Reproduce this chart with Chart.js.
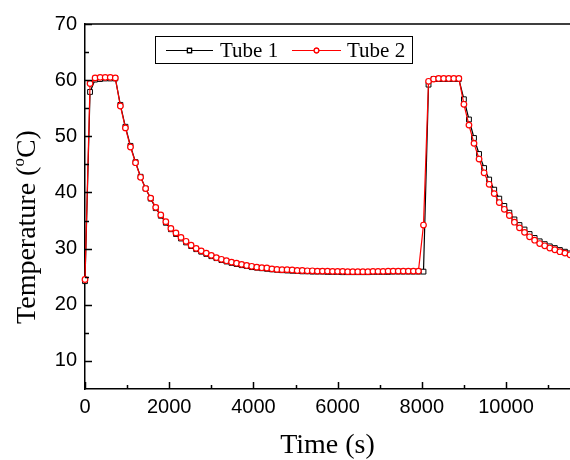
<!DOCTYPE html>
<html>
<head>
  <meta charset="utf-8">
  <title>Tube temperature</title>
  <script src="https://cdn.jsdelivr.net/npm/chart.js@4.4.0/dist/chart.umd.min.js"></script>
  <style>
    body { margin: 0; background: #ffffff; }
    #wrap { width: 570px; height: 460px; }
  </style>
</head>
<body>
<div id="wrap"><canvas id="myChart" width="570" height="460"></canvas></div>
<script>
  // time axis, seconds
  let timeSec = [
    0, 120, 240, 360, 480, 600, 720, 840, 960, 1080,
    1200, 1320, 1440, 1560, 1680, 1800, 1920, 2040, 2160, 2280,
    2400, 2520, 2640, 2760, 2880, 3000, 3120, 3240, 3360, 3480,
    3600, 3720, 3840, 3960, 4080, 4200, 4320, 4440, 4560, 4680,
    4800, 4920, 5040, 5160, 5280, 5400, 5520, 5640, 5760, 5880,
    6000, 6120, 6240, 6360, 6480, 6600, 6720, 6840, 6960, 7080,
    7200, 7320, 7440, 7560, 7680, 7800, 7920, 8040, 8160, 8280,
    8400, 8520, 8640, 8760, 8880, 9000, 9120, 9240, 9360, 9480,
    9600, 9720, 9840, 9960, 10080, 10200, 10320, 10440, 10560, 10680,
    10800, 10920, 11040, 11160, 11280, 11400, 11520
  ];

  let tube1Temp = [
    24.2, 57.9, 60.1, 60.2, 60.3, 60.3, 60.3, 55.6, 51.7, 48.3,
    45.4, 42.8, 40.7, 38.9, 37.2, 35.85, 34.6, 33.45, 32.6, 31.8,
    31.1, 30.45, 29.9, 29.45, 29.05, 28.65, 28.3, 27.95, 27.7, 27.45,
    27.25, 27.05, 26.9, 26.7, 26.6, 26.5, 26.4, 26.3, 26.2, 26.15,
    26.1, 26.05, 26.0, 25.95, 25.95, 25.9, 25.9, 25.9, 25.85, 25.85,
    25.85, 25.8, 25.8, 25.8, 25.8, 25.8, 25.8, 25.85, 25.85, 25.85,
    25.85, 25.9, 25.9, 25.9, 25.9, 25.9, 25.9, 25.9, 59.2, 60.2,
    60.2, 60.2, 60.2, 60.2, 60.2, 56.6, 53.0, 49.7, 46.85, 44.35,
    42.3, 40.5, 38.9, 37.6, 36.4, 35.2, 34.2, 33.4, 32.6, 31.9,
    31.3, 30.8, 30.4, 30.1, 29.75, 29.45, 29.15
  ];

  let tube2Temp = [
    24.5, 59.4, 60.4, 60.5, 60.5, 60.5, 60.4, 55.4, 51.5, 48.1,
    45.3, 42.7, 40.7, 39.0, 37.35, 36.0, 34.8, 33.6, 32.8, 32.0,
    31.3, 30.6, 30.05, 29.6, 29.2, 28.8, 28.4, 28.1, 27.85, 27.6,
    27.4, 27.2, 27.0, 26.85, 26.7, 26.6, 26.55, 26.4, 26.3, 26.25,
    26.25, 26.2, 26.1, 26.1, 26.05, 26.05, 26.0, 26.0, 26.0, 25.95,
    25.95, 25.95, 25.9, 25.9, 25.9, 25.9, 25.9, 25.95, 25.95, 25.95,
    26.0, 26.0, 26.0, 26.0, 26.0, 26.0, 26.0, 34.2, 59.8, 60.2,
    60.3, 60.3, 60.3, 60.3, 60.3, 55.7, 52.0, 48.75, 45.95, 43.5,
    41.45, 39.8, 38.2, 37.0, 35.9, 34.7, 33.7, 32.9, 32.1, 31.5,
    30.9, 30.5, 30.1, 29.8, 29.45, 29.2, 28.9
  ];

  let xTicks = [0, 2000, 4000, 6000, 8000, 10000];
  let xMinor = [1000, 3000, 5000, 7000, 9000, 11000];
  let yTicks = [10, 20, 30, 40, 50, 60, 70];
  let yMinor = [15, 25, 35, 45, 55, 65];

  let serif = '"Liberation Serif", "Times New Roman", serif';
  let sans = '"Liberation Sans", Arial, sans-serif';

  function toPoints(ys) {
    return timeSec.map((t, i) => ({ x: t, y: ys[i] }));
  }

  // inward tick marks, top frame line, axis titles and boxed legend
  let decor = {
    id: 'decor',
    afterDraw(chart) {
      let ctx = chart.ctx;
      let a = chart.chartArea;
      let xs = chart.scales.x, ys = chart.scales.y;
      ctx.save();
      ctx.strokeStyle = '#000';
      ctx.lineWidth = 1.5;
      ctx.beginPath();
      ctx.moveTo(a.left, a.top);
      ctx.lineTo(a.right, a.top);
      yTicks.forEach(v => { let p = Math.round(ys.getPixelForValue(v)) + 0.5; ctx.moveTo(a.left, p); ctx.lineTo(a.left + 7, p); });
      yMinor.forEach(v => { let p = Math.round(ys.getPixelForValue(v)) + 0.5; ctx.moveTo(a.left, p); ctx.lineTo(a.left + 4, p); });
      xTicks.forEach(v => { let p = Math.round(xs.getPixelForValue(v)) + 0.5; ctx.moveTo(p, a.bottom); ctx.lineTo(p, a.bottom - 7); });
      xMinor.forEach(v => { let p = Math.round(xs.getPixelForValue(v)) + 0.5; ctx.moveTo(p, a.bottom); ctx.lineTo(p, a.bottom - 4); });
      ctx.stroke();

      // x title
      ctx.fillStyle = '#000';
      ctx.font = '28px ' + serif;
      ctx.textAlign = 'center';
      ctx.textBaseline = 'alphabetic';
      ctx.fillText('Time (s)', (a.left + a.right) / 2, 453);

      // y title with superscript o
      let p1 = 'Temperature (', sup = 'o', p2 = 'C)';
      ctx.font = '28px ' + serif;
      let w1 = ctx.measureText(p1).width, w3 = ctx.measureText(p2).width;
      ctx.font = '17px ' + serif;
      let w2 = ctx.measureText(sup).width;
      let total = w1 + w2 + w3;
      ctx.translate(35, 227);
      ctx.rotate(-Math.PI / 2);
      ctx.textAlign = 'left';
      let sx = -total / 2;
      ctx.font = '28px ' + serif;
      ctx.fillText(p1, sx, 0);
      ctx.font = '17px ' + serif;
      ctx.fillText(sup, sx + w1, -11);
      ctx.font = '28px ' + serif;
      ctx.fillText(p2, sx + w1 + w2, 0);
      ctx.setTransform(1, 0, 0, 1, 0, 0);

      // legend
      ctx.lineWidth = 1;
      ctx.strokeRect(155.5, 36.5, 257, 27);
      let cy = 50.5;
      let items = [
        { ds: chart.data.datasets[0], x0: 166, x1: 213, tx: 220 },
        { ds: chart.data.datasets[1], x0: 292, x1: 341, tx: 347 }
      ];
      items.forEach(it => {
        ctx.strokeStyle = it.ds.borderColor;
        ctx.lineWidth = 1.2;
        ctx.beginPath();
        ctx.moveTo(it.x0, cy);
        ctx.lineTo(it.x1, cy);
        ctx.stroke();
        Chart.helpers.drawPoint(ctx, {
          pointStyle: it.ds.pointStyle,
          radius: it.ds.pointRadius - 0.5,
          borderWidth: 1
        }, (it.x0 + it.x1) / 2, cy);
        ctx.fillStyle = '#fff';
        ctx.fill();
        ctx.stroke();
        ctx.fillStyle = '#000';
        ctx.font = '21px ' + serif;
        ctx.textAlign = 'left';
        ctx.textBaseline = 'middle';
        ctx.fillText(it.ds.label, it.tx, cy + 1);
      });
      ctx.restore();
    }
  };

  let ctx = document.getElementById('myChart').getContext('2d');
  let myChart = new Chart(ctx, {
    type: 'line',
    data: {
      datasets: [{
        label: 'Tube 1',
        data: toPoints(tube1Temp),
        borderColor: '#000000',
        backgroundColor: '#ffffff',
        borderWidth: 1.2,
        pointStyle: 'rect',
        pointRadius: 3.4,
        pointBorderWidth: 1,
        pointBackgroundColor: '#ffffff',
        pointBorderColor: '#000000',
        tension: 0,
        clip: 6,
        order: 1
      }, {
        label: 'Tube 2',
        data: toPoints(tube2Temp),
        borderColor: '#ff0000',
        backgroundColor: '#ffffff',
        borderWidth: 1.2,
        pointStyle: 'circle',
        pointRadius: 2.8,
        pointBorderWidth: 1.2,
        pointBackgroundColor: '#ffffff',
        pointBorderColor: '#ff0000',
        tension: 0,
        clip: 6,
        order: 0
      }]
    },
    options: {
      responsive: false,
      animation: false,
      layout: { autoPadding: false, padding: { top: 24, right: 0, left: 0, bottom: 0 } },
      plugins: {
        legend: { display: false },
        tooltip: { enabled: false }
      },
      scales: {
        x: {
          type: 'linear',
          min: 0,
          max: 11520,
          grid: { display: false, drawTicks: false },
          border: { display: true, color: '#000', width: 1.5 },
          ticks: { color: '#000', font: { family: sans, size: 20 }, padding: 6, maxRotation: 0,
                   callback: v => String(v) },
          afterBuildTicks: s => { s.ticks = xTicks.map(v => ({ value: v })); },
          afterFit: s => { s.height = 71; s.paddingLeft = 0; s.paddingRight = 0; }
        },
        y: {
          min: 5,
          max: 70,
          grid: { display: false, drawTicks: false },
          border: { display: true, color: '#000', width: 1.5 },
          ticks: { color: '#000', font: { family: sans, size: 20 }, padding: 8 },
          afterBuildTicks: s => { s.ticks = yTicks.map(v => ({ value: v })); },
          afterFit: s => { s.width = 85; s.paddingTop = 0; s.paddingBottom = 0; }
        }
      }
    },
    plugins: [decor]
  });
</script>
</body>
</html>
